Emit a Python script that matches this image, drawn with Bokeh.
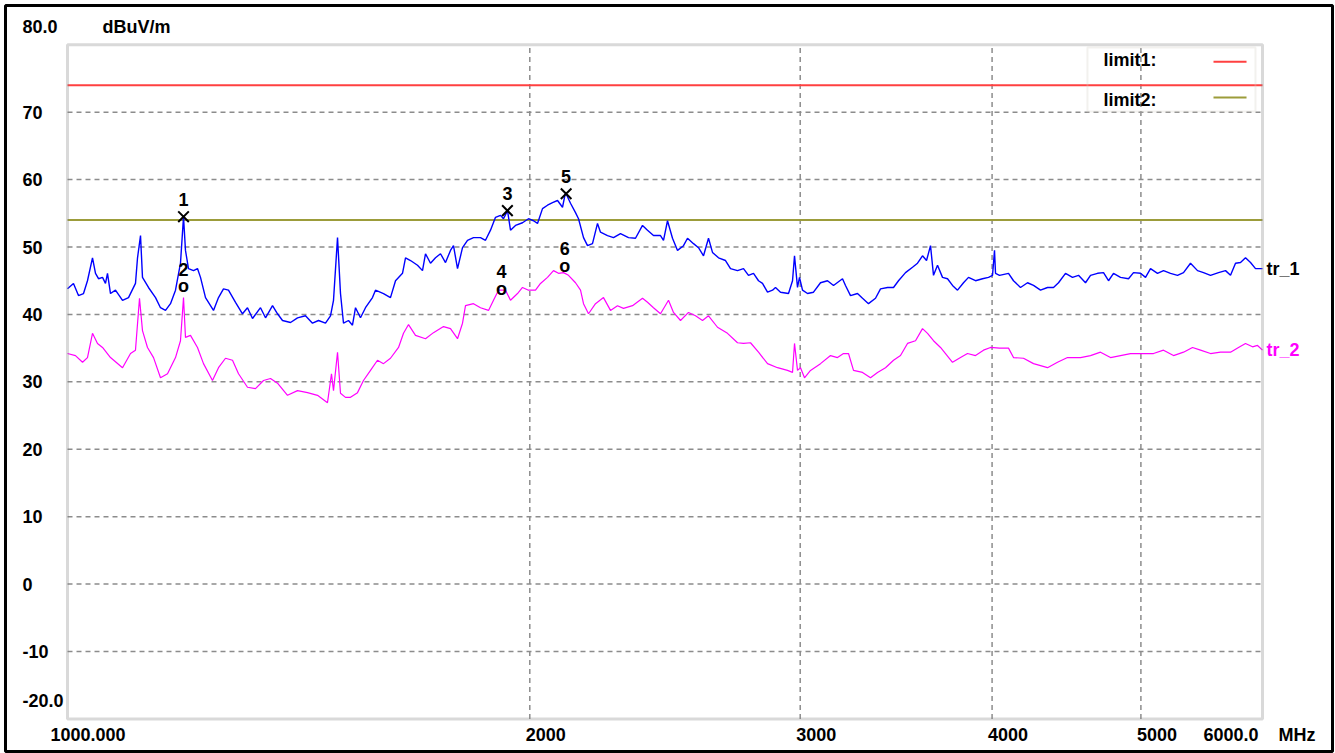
import math
from bokeh.plotting import figure
from bokeh.models import Range1d, BoxAnnotation
from bokeh.core.properties import value
from bokeh.embed import file_html
from bokeh.resources import INLINE

FONT = "Liberation Sans"

# ---------------- data (MHz, dBuV/m) ----------------
tr1_freq = [1000.0, 1009.0, 1016.6, 1024.3, 1030.4, 1038.2, 1042.9, 1047.6, 1053.9, 1058.6, 1061.8, 1066.6, 1074.6, 1086.0, 1095.8,
            1107.3, 1110.7, 1115.7, 1119.0, 1129.1, 1141.1, 1149.6, 1158.3, 1167.0, 1175.8, 1184.6, 1190.0, 1193.5, 1198.9, 1208.0,
            1215.2, 1220.7, 1229.9, 1244.7, 1254.1, 1263.5, 1273.0, 1286.5, 1300.0, 1309.8, 1319.7, 1335.6, 1345.7, 1359.9, 1370.1,
            1380.4, 1397.1, 1411.8, 1428.8, 1443.9, 1457.0, 1472.3, 1483.4, 1490.1, 1499.1, 1505.8, 1512.6, 1524.0, 1533.1, 1540.1,
            1551.6, 1563.3, 1579.8, 1586.9, 1606.1, 1623.0, 1635.3, 1652.5, 1660.0, 1672.5, 1690.1, 1702.8, 1710.5, 1723.4, 1736.3,
            1749.4, 1762.6, 1775.8, 1783.8, 1794.6, 1808.1, 1821.7, 1838.1, 1857.5, 1871.5, 1885.6, 1899.8, 1914.1, 1922.7, 1934.3,
            1943.0, 1957.6, 1978.3, 1996.2, 2011.2, 2023.3, 2038.5, 2053.8, 2069.3, 2084.9, 2100.6, 2110.0, 2125.9, 2141.9, 2151.6,
            2167.8, 2180.8, 2197.2, 2213.7, 2223.7, 2247.2, 2267.5, 2291.4, 2319.1, 2343.5, 2368.3, 2386.1, 2407.6, 2433.0, 2444.0,
            2458.7, 2477.2, 2495.9, 2518.4, 2533.6, 2556.5, 2575.7, 2595.1, 2614.6, 2630.3, 2654.1, 2682.1, 2702.3, 2730.8, 2755.5,
            2776.2, 2797.1, 2818.2, 2835.1, 2856.5, 2878.0, 2890.9, 2912.7, 2947.8, 2965.6, 2974.5, 2987.9, 2996.8, 3010.4, 3033.0,
            3060.4, 3092.7, 3125.4, 3153.6, 3196.4, 3210.8, 3235.0, 3269.1, 3293.8, 3323.5, 3358.6, 3383.9, 3419.6, 3450.5, 3476.4,
            3513.1, 3550.2, 3576.9, 3603.8, 3625.5, 3647.3, 3663.7, 3685.8, 3713.5, 3741.5, 3769.6, 3798.0, 3832.3, 3861.1, 3901.9,
            3943.0, 3978.7, 4002.6, 4014.6, 4020.7, 4044.8, 4099.8, 4130.6, 4174.2, 4218.3, 4256.4, 4301.3, 4346.7, 4386.0, 4419.0,
            4465.6, 4512.7, 4553.5, 4601.5, 4636.2, 4685.1, 4727.4, 4763.0, 4798.8, 4849.5, 4908.0, 4944.9, 4997.1, 5034.7, 5072.6,
            5126.1, 5172.4, 5227.0, 5282.2, 5329.9, 5386.1, 5443.0, 5492.1, 5550.1, 5617.1, 5676.3, 5719.1, 5762.1, 5805.5, 5849.1,
            5893.2, 5937.5, 6000.0]
tr1_level = [43.8, 44.6, 42.8, 43.1, 45.0, 48.4, 46.1, 45.3, 45.5, 44.6, 46.1, 43.1, 43.6, 42.1, 42.5,
             44.6, 48.4, 51.7, 45.5, 44.0, 42.5, 41.0, 40.6, 41.6, 43.6, 47.6, 54.5, 49.5, 46.8, 46.5,
             46.8, 45.5, 42.5, 40.6, 42.5, 43.8, 43.6, 41.8, 40.1, 41.0, 39.4, 41.0, 39.5, 41.3, 40.1,
             39.1, 38.8, 39.5, 39.8, 38.7, 39.1, 38.7, 39.8, 42.1, 51.4, 43.1, 38.7, 39.1, 38.4, 41.0,
             39.5, 41.0, 42.5, 43.6, 43.1, 42.5, 45.0, 46.1, 48.4, 48.0, 47.3, 46.5, 49.0, 47.6, 48.4,
             49.0, 47.7, 49.5, 50.2, 46.8, 49.9, 51.0, 51.4, 51.4, 51.0, 52.5, 54.4, 54.7, 54.2, 55.4,
             52.5, 53.2, 53.6, 54.2, 53.9, 53.5, 55.7, 56.2, 56.6, 56.9, 55.9, 58.1, 56.5, 55.1, 54.2,
             51.4, 50.2, 50.5, 53.5, 52.2, 51.7, 51.4, 52.0, 51.4, 51.3, 53.2, 52.5, 51.7, 51.7, 51.0,
             53.9, 51.3, 49.5, 50.2, 51.3, 50.5, 49.9, 48.7, 51.3, 49.2, 48.4, 48.0, 46.8, 46.5, 46.8,
             45.8, 46.1, 45.0, 44.6, 43.3, 43.6, 44.0, 43.3, 43.1, 45.0, 48.7, 44.0, 45.5, 43.6, 43.1,
             43.3, 44.7, 45.0, 44.3, 45.3, 44.3, 42.8, 43.1, 42.4, 41.6, 42.4, 43.8, 44.0, 44.0, 45.0,
             46.2, 47.0, 47.6, 48.7, 48.0, 50.2, 45.8, 47.3, 45.5, 45.3, 44.3, 43.6, 44.7, 45.5, 45.0,
             45.3, 45.5, 45.8, 49.5, 46.1, 45.8, 46.1, 45.0, 44.0, 44.7, 44.3, 43.6, 44.0, 44.0, 44.7,
             46.1, 45.5, 45.8, 44.7, 45.8, 46.1, 46.2, 45.0, 46.1, 45.5, 45.3, 46.2, 46.1, 45.5, 46.8,
             46.1, 46.5, 46.1, 45.8, 46.2, 47.6, 46.5, 46.2, 45.8, 46.2, 46.5, 45.8, 47.6, 47.7, 48.4,
             47.7, 46.8, 46.8]

tr2_freq = [1000.0, 1012.0, 1022.8, 1030.4, 1038.2, 1046.0, 1053.9, 1066.6, 1086.0, 1099.1, 1107.3, 1114.0, 1119.0, 1127.4, 1137.7,
            1149.6, 1161.8, 1175.8, 1184.6, 1190.0, 1193.5, 1202.5, 1215.2, 1226.2, 1242.8, 1254.1, 1267.3, 1280.7, 1292.3, 1309.8,
            1325.6, 1341.7, 1355.8, 1370.1, 1390.8, 1411.8, 1433.1, 1454.8, 1476.7, 1485.6, 1490.1, 1499.1, 1505.8, 1517.1, 1528.6,
            1544.7, 1558.6, 1575.1, 1591.7, 1606.1, 1623.0, 1642.7, 1655.0, 1667.5, 1685.0, 1710.5, 1731.1, 1757.3, 1775.8, 1794.6,
            1808.1, 1816.2, 1838.1, 1857.5, 1880.0, 1894.1, 1908.4, 1928.5, 1943.0, 1963.5, 1978.3, 1996.2, 2017.2, 2032.4, 2053.8,
            2072.4, 2088.0, 2103.8, 2119.5, 2141.9, 2158.1, 2167.8, 2184.1, 2207.1, 2233.7, 2257.3, 2281.1, 2301.7, 2333.0, 2368.3,
            2386.1, 2407.6, 2433.0, 2462.4, 2480.9, 2507.1, 2537.4, 2564.2, 2591.2, 2614.6, 2650.1, 2690.1, 2730.8, 2755.5, 2784.5,
            2818.2, 2856.5, 2899.6, 2943.4, 2965.6, 2974.5, 2987.9, 3001.3, 3019.4, 3046.7, 3092.7, 3139.5, 3172.6, 3201.2, 3225.3,
            3249.6, 3293.8, 3333.5, 3368.7, 3409.3, 3450.5, 3486.8, 3523.6, 3566.2, 3603.8, 3631.0, 3663.7, 3702.4, 3730.3, 3769.6,
            3815.1, 3855.3, 3901.9, 3948.9, 3990.6, 4044.8, 4099.8, 4130.6, 4193.0, 4256.4, 4346.7, 4412.4, 4479.0, 4567.2, 4636.2,
            4706.2, 4777.3, 4849.5, 4922.7, 5019.6, 5095.4, 5172.4, 5250.5, 5329.9, 5402.3, 5467.5, 5550.1, 5634.0, 5719.1, 5788.0,
            5849.1, 5910.9, 5955.3, 6000.0]
tr2_level = [34.2, 33.9, 32.9, 33.6, 37.2, 35.7, 35.1, 33.6, 32.1, 34.2, 34.7, 42.4, 37.6, 35.1, 33.6,
             30.6, 31.2, 33.6, 36.1, 42.5, 36.6, 36.9, 35.1, 32.7, 30.2, 32.1, 33.5, 33.2, 31.2, 29.2,
             29.0, 30.2, 30.5, 29.8, 28.0, 28.7, 28.4, 28.0, 26.9, 31.2, 28.7, 34.4, 28.3, 27.7, 27.7,
             28.4, 30.2, 31.7, 33.2, 32.7, 33.5, 35.1, 37.2, 38.5, 36.9, 36.4, 37.3, 38.2, 37.9, 36.4,
             38.7, 41.3, 41.6, 41.0, 40.6, 42.1, 43.6, 43.6, 42.1, 43.1, 44.0, 43.6, 43.6, 44.6, 45.5,
             46.5, 46.1, 46.2, 45.8, 44.7, 43.6, 41.6, 40.1, 41.6, 42.5, 40.6, 41.3, 40.9, 41.3, 42.4,
             41.8, 41.0, 40.1, 42.1, 40.3, 39.1, 40.3, 39.8, 39.1, 39.8, 38.1, 37.2, 35.8, 35.7, 35.8,
             34.4, 32.7, 32.1, 31.7, 31.4, 35.7, 31.7, 32.1, 30.6, 31.7, 32.7, 33.9, 33.6, 34.2, 34.2,
             31.7, 31.4, 30.6, 31.4, 32.1, 33.2, 33.9, 35.7, 36.1, 37.9, 37.2, 36.1, 35.1, 34.2, 32.9,
             33.6, 34.2, 33.9, 34.7, 35.1, 35.0, 35.0, 33.6, 33.5, 32.7, 32.1, 32.9, 33.6, 33.6, 33.9,
             34.4, 33.6, 33.9, 34.2, 34.2, 34.2, 34.7, 33.9, 34.4, 35.1, 34.7, 34.2, 34.4, 34.4, 35.1,
             35.7, 35.2, 35.4, 34.7]

limit_names = ["limit1:", "limit2:"]
limit_levels = [74.0, 54.0]
limit_colors = ["#ff4040", "#9c9c3a"]

mk_num = ["1", "2", "3", "4", "5", "6"]
mk_sym = ["x", "o", "x", "o", "x", "o"]
mk_freq = [1190.0, 1190.0, 1934.0, 1917.0, 2112.0, 2108.0]
mk_level = [54.5, 44.2, 55.4, 43.8, 57.9, 47.2]

y_ticks = [-10, 0, 10, 20, 30, 40, 50, 60, 70]
x_ticks = [2000, 3000, 4000, 5000]
x_start, x_end = 1000.0, 6000.0
y_start, y_end = -20.0, 80.0
x_start_label, x_end_label, x_unit = "1000.000", "6000.0", "MHz"
y_start_label, y_end_label, y_unit = "-20.0", "80.0", "dBuV/m"

# ---------------- layout geometry (page pixels) ----------------
FIG_W, FIG_H = 1335, 753
FR_L, FR_T, FR_R, FR_B = 5, 5, 1332, 751          # outer black frame
PX_L, PX_R, PY_T, PY_B = 67, 1262, 44.3, 718.4     # grey plot box

lx0, lx1 = math.log10(x_start), math.log10(x_end)
ppd = (PX_R - PX_L) / (lx1 - lx0)
xr = Range1d(10 ** (lx0 - (PX_L - FR_L) / ppd), 10 ** (lx1 + (FR_R - PX_R) / ppd))
ppu = (PY_B - PY_T) / (y_end - y_start)
yr = Range1d(y_start - (FR_B - PY_B) / ppu, y_end + (PY_T - FR_T) / ppu)

p = figure(width=FIG_W, height=FIG_H, x_axis_type="log", x_range=xr, y_range=yr,
           x_axis_location=None, y_axis_location=None,
           output_backend="svg", toolbar_location=None, title=None,
           min_border_left=FR_L, min_border_top=FR_T,
           min_border_right=FIG_W - FR_R, min_border_bottom=FIG_H - FR_B)
p.grid.visible = False
p.background_fill_color = "white"
p.border_fill_color = "white"
p.outline_line_color = "black"
p.outline_line_width = 3

GRID = "#8c8c8c"
TXT = dict(text_font=value(FONT), text_font_style="bold", text_font_size="18px", text_baseline="middle")

# grid (dashed) inside the plot box
p.segment(x0=x_ticks, x1=x_ticks, y0=[y_start] * len(x_ticks), y1=[y_end] * len(x_ticks),
          line_color=GRID, line_dash="5 4", line_width=1.5)
p.segment(x0=[x_start] * len(y_ticks), x1=[x_end] * len(y_ticks), y0=y_ticks, y1=y_ticks,
          line_color=GRID, line_dash="5 4", line_width=1.5)

# limit lines
p.segment(x0=[x_start] * 2, x1=[x_end] * 2, y0=limit_levels, y1=limit_levels,
          line_color=limit_colors, line_width=2)

# traces
p.line(tr2_freq, tr2_level, line_color="#ff00ff", line_width=1.2)
p.line(tr1_freq, tr1_level, line_color="#0000ff", line_width=1.4)

# plot box
p.add_layout(BoxAnnotation(left=x_start, right=x_end, bottom=y_start, top=y_end,
                           fill_alpha=0, line_color="#808080", line_width=3))

# markers
xs = [f for f, s in zip(mk_freq, mk_sym) if s == "x"]
xl = [l for l, s in zip(mk_level, mk_sym) if s == "x"]
os_ = [f for f, s in zip(mk_freq, mk_sym) if s == "o"]
ol = [l for l, s in zip(mk_level, mk_sym) if s == "o"]
p.scatter(xs, xl, marker="x", size=15, line_color="black", line_width=2)
p.text(os_, ol, text=["o"] * len(os_), text_align="center", text_color="black", **TXT)
p.text(mk_freq, mk_level, text=mk_num, y_offset=-17, text_align="center", text_color="black", **TXT)

# axis tick labels
p.text([x_start] * len(y_ticks), y_ticks, text=[str(t) for t in y_ticks], x_offset=-45,
       text_align="left", text_color="black", **TXT)
p.text(x_ticks, [y_start] * len(x_ticks), text=[str(t) for t in x_ticks], x_offset=-4, y_offset=16,
       text_align="left", text_color="black", **TXT)
p.text([x_start, x_start, x_start, x_start, x_end, x_end],
       [y_end, y_end, y_start, y_start, y_start, y_start],
       text=[y_end_label, y_unit, y_start_label, x_start_label, x_end_label, x_unit],
       x_offset=[-45, 35, -45, -17, -59, 16], y_offset=[-18, -18, -18, 16, 16, 16],
       text_align="left", text_color="black", **TXT)

# trace names at the right end
p.text([x_end, x_end], [tr1_level[-1], tr2_level[-1]], text=["tr_1", "tr_2"], x_offset=4,
       text_align="left", text_color=["black", "#ff00ff"], **TXT)

# legend (label first, line sample after)
LEG_L, LEG_R, LEG_T, LEG_B = 4615.0, 5937.0, 79.6, 70.1
p.add_layout(BoxAnnotation(left=LEG_L, right=LEG_R, top=LEG_T, bottom=LEG_B,
                           fill_alpha=0, line_color="#d4d0c8", line_width=2))
p.text([LEG_L, LEG_L], [77.7, 71.8], text=limit_names, x_offset=16, text_align="left",
       text_color="black", **TXT)
p.segment(x0=[5575.0, 5575.0], x1=[5858.0, 5858.0], y0=[77.5, 72.2], y1=[77.5, 72.2],
          line_color=limit_colors, line_width=2)

open("out.html", "w").write(file_html(p, INLINE))
